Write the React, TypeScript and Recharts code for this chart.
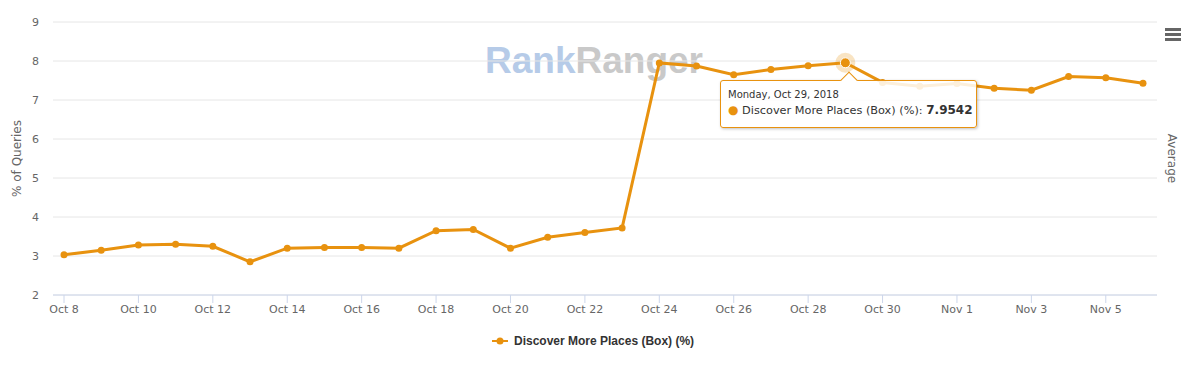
import {
  LineChart,
  Line,
  XAxis,
  YAxis,
  CartesianGrid,
  Tooltip,
} from "recharts";

const ORANGE = "#e8920f";
const FONT = "'DejaVu Sans', Verdana, sans-serif";

const days = [
  "Oct 8", "Oct 9", "Oct 10", "Oct 11", "Oct 12", "Oct 13", "Oct 14",
  "Oct 15", "Oct 16", "Oct 17", "Oct 18", "Oct 19", "Oct 20", "Oct 21",
  "Oct 22", "Oct 23", "Oct 24", "Oct 25", "Oct 26", "Oct 27", "Oct 28",
  "Oct 29", "Oct 30", "Oct 31", "Nov 1", "Nov 2", "Nov 3", "Nov 4",
  "Nov 5", "Nov 6",
];

const discoverPct = [
  3.03, 3.15, 3.28, 3.3, 3.25, 2.85, 3.2,
  3.22, 3.22, 3.2, 3.65, 3.68, 3.2, 3.48,
  3.6, 3.72, 7.95, 7.87, 7.65, 7.78, 7.88,
  7.9542, 7.45, 7.35, 7.42, 7.3, 7.25, 7.6,
  7.57, 7.43,
];

const yTicks = [2, 3, 4, 5, 6, 7, 8, 9];

const WEEKDAYS = ["Sunday", "Monday", "Tuesday", "Wednesday", "Thursday", "Friday", "Saturday"];

const data = days.map((d, i) => {
  const dt = new Date(2018, 9, 8 + i);
  return {
    day: d,
    value: discoverPct[i],
    full: `${WEEKDAYS[dt.getDay()]}, ${d}, 2018`,
  };
});

function LeftTitle(props: any) {
  const vb = props.viewBox;
  const x = vb.x + 17;
  const y = vb.y + vb.height / 2;
  return (
    <text x={x} y={y} transform={`rotate(-90 ${x} ${y})`} textAnchor="middle"
      dominantBaseline="central" fill="#666" fontSize={12} fontFamily={FONT}>
      % of Queries
    </text>
  );
}

function RightTitle(props: any) {
  const vb = props.viewBox;
  const x = vb.x + 15;
  const y = vb.y + vb.height / 2;
  return (
    <text x={x} y={y} transform={`rotate(90 ${x} ${y})`} textAnchor="middle"
      dominantBaseline="central" fill="#666" fontSize={12} fontFamily={FONT}>
      Average
    </text>
  );
}

function HaloDot(props: any) {
  const { cx, cy } = props;
  return (
    <g>
      <circle cx={cx} cy={cy} r={10} fill={ORANGE} fillOpacity={0.25} />
      <circle cx={cx} cy={cy} r={5} fill={ORANGE} stroke="#fff" strokeWidth={1} />
    </g>
  );
}

function TipBox({ active, payload }: any) {
  if (!active || !payload || !payload.length) return null;
  const p = payload[0].payload;
  return (
    <div style={{
      position: "relative", width: 240, background: "rgba(255,255,255,0.85)",
      border: `1px solid ${ORANGE}`, borderRadius: 3, padding: "7px 8px 8px 7px",
      boxShadow: "1px 1px 3px rgba(0,0,0,0.25)", fontFamily: FONT, whiteSpace: "nowrap",
      color: "#333",
    }}>
      <div style={{
        position: "absolute", left: 122, top: -7, width: 11, height: 11,
        background: "#fff", borderTop: `1px solid ${ORANGE}`, borderLeft: `1px solid ${ORANGE}`,
        transform: "rotate(45deg)",
      }} />
      <div style={{ fontSize: 10, lineHeight: "14px" }}>{p.full}</div>
      <div style={{ fontSize: 11.3, lineHeight: "17px" }}>
        <span style={{ color: ORANGE, fontSize: 12 }}>●</span> Discover More Places (Box) (%):{" "}
        <b style={{ fontSize: 12 }}>{p.value.toFixed(4)}</b>
      </div>
    </div>
  );
}

export default function App() {
  return (
    <div style={{ position: "absolute", left: 0, top: 0, width: 1195, height: 375, background: "#fff", fontFamily: FONT }}>
      <div style={{
        position: "absolute", left: 485, top: 36, fontFamily: "'Liberation Sans', Arial, sans-serif",
        fontWeight: 700, fontSize: 37, lineHeight: "50px",
      }}>
        <span style={{ color: "#b6cbe8" }}>Rank</span>
        <span style={{ color: "#c9c9c9" }}>Ranger</span>
      </div>
      <div style={{ position: "absolute", left: 0, top: 0 }}>
        <LineChart width={1195} height={375} data={data}
          margin={{ top: 22, right: 0, left: 0, bottom: 50 }}>
          <CartesianGrid vertical={false} stroke="#e6e6e6" />
          <XAxis dataKey="day" interval={1} height={30}
            padding={{ left: 11, right: 14 }}
            axisLine={{ stroke: "#ccd6eb" }} tickLine={{ stroke: "#ccd6eb" }}
            tickSize={8} tickMargin={2}
            tick={{ fontSize: 11, fill: "#666", fontFamily: FONT }} />
          <YAxis domain={[2, 9]} ticks={yTicks} width={53} axisLine={false}
            tickLine={false} tickSize={0} tickMargin={14}
            tick={{ fontSize: 11, fill: "#666", fontFamily: FONT }}
            label={{ content: LeftTitle }} />
          <YAxis yAxisId="avg" orientation="right" domain={[0, 1]} width={38}
            tick={false} axisLine={false} tickLine={false}
            label={{ content: RightTitle }} />
          <Tooltip defaultIndex={21} cursor={false} content={<TipBox />}
            position={{ x: 720, y: 80 }} isAnimationActive={false}
            wrapperStyle={{ outline: "none" }} />
          <Line dataKey="value" stroke={ORANGE} strokeWidth={3}
            dot={{ r: 3.5, fill: ORANGE, stroke: ORANGE, strokeWidth: 0 }}
            activeDot={<HaloDot />} isAnimationActive={false} />
        </LineChart>
      </div>
      <div style={{ position: "absolute", left: 1165, top: 28, width: 16 }}>
        {[0, 1, 2].map((i) => (
          <div key={i} style={{ height: 2.5, background: "#666", marginBottom: 2.5 }} />
        ))}
      </div>
      <div style={{
        position: "absolute", left: 492, top: 334, display: "flex", alignItems: "center",
        fontFamily: "'Liberation Sans', Arial, sans-serif", fontSize: 12, fontWeight: 700, color: "#333",
      }}>
        <svg width={16} height={10} style={{ marginRight: 6 }}>
          <line x1={0} y1={5} x2={16} y2={5} stroke={ORANGE} strokeWidth={2} />
          <circle cx={8} cy={5} r={3.5} fill={ORANGE} />
        </svg>
        <span>Discover More Places (Box) (%)</span>
      </div>
    </div>
  );
}
